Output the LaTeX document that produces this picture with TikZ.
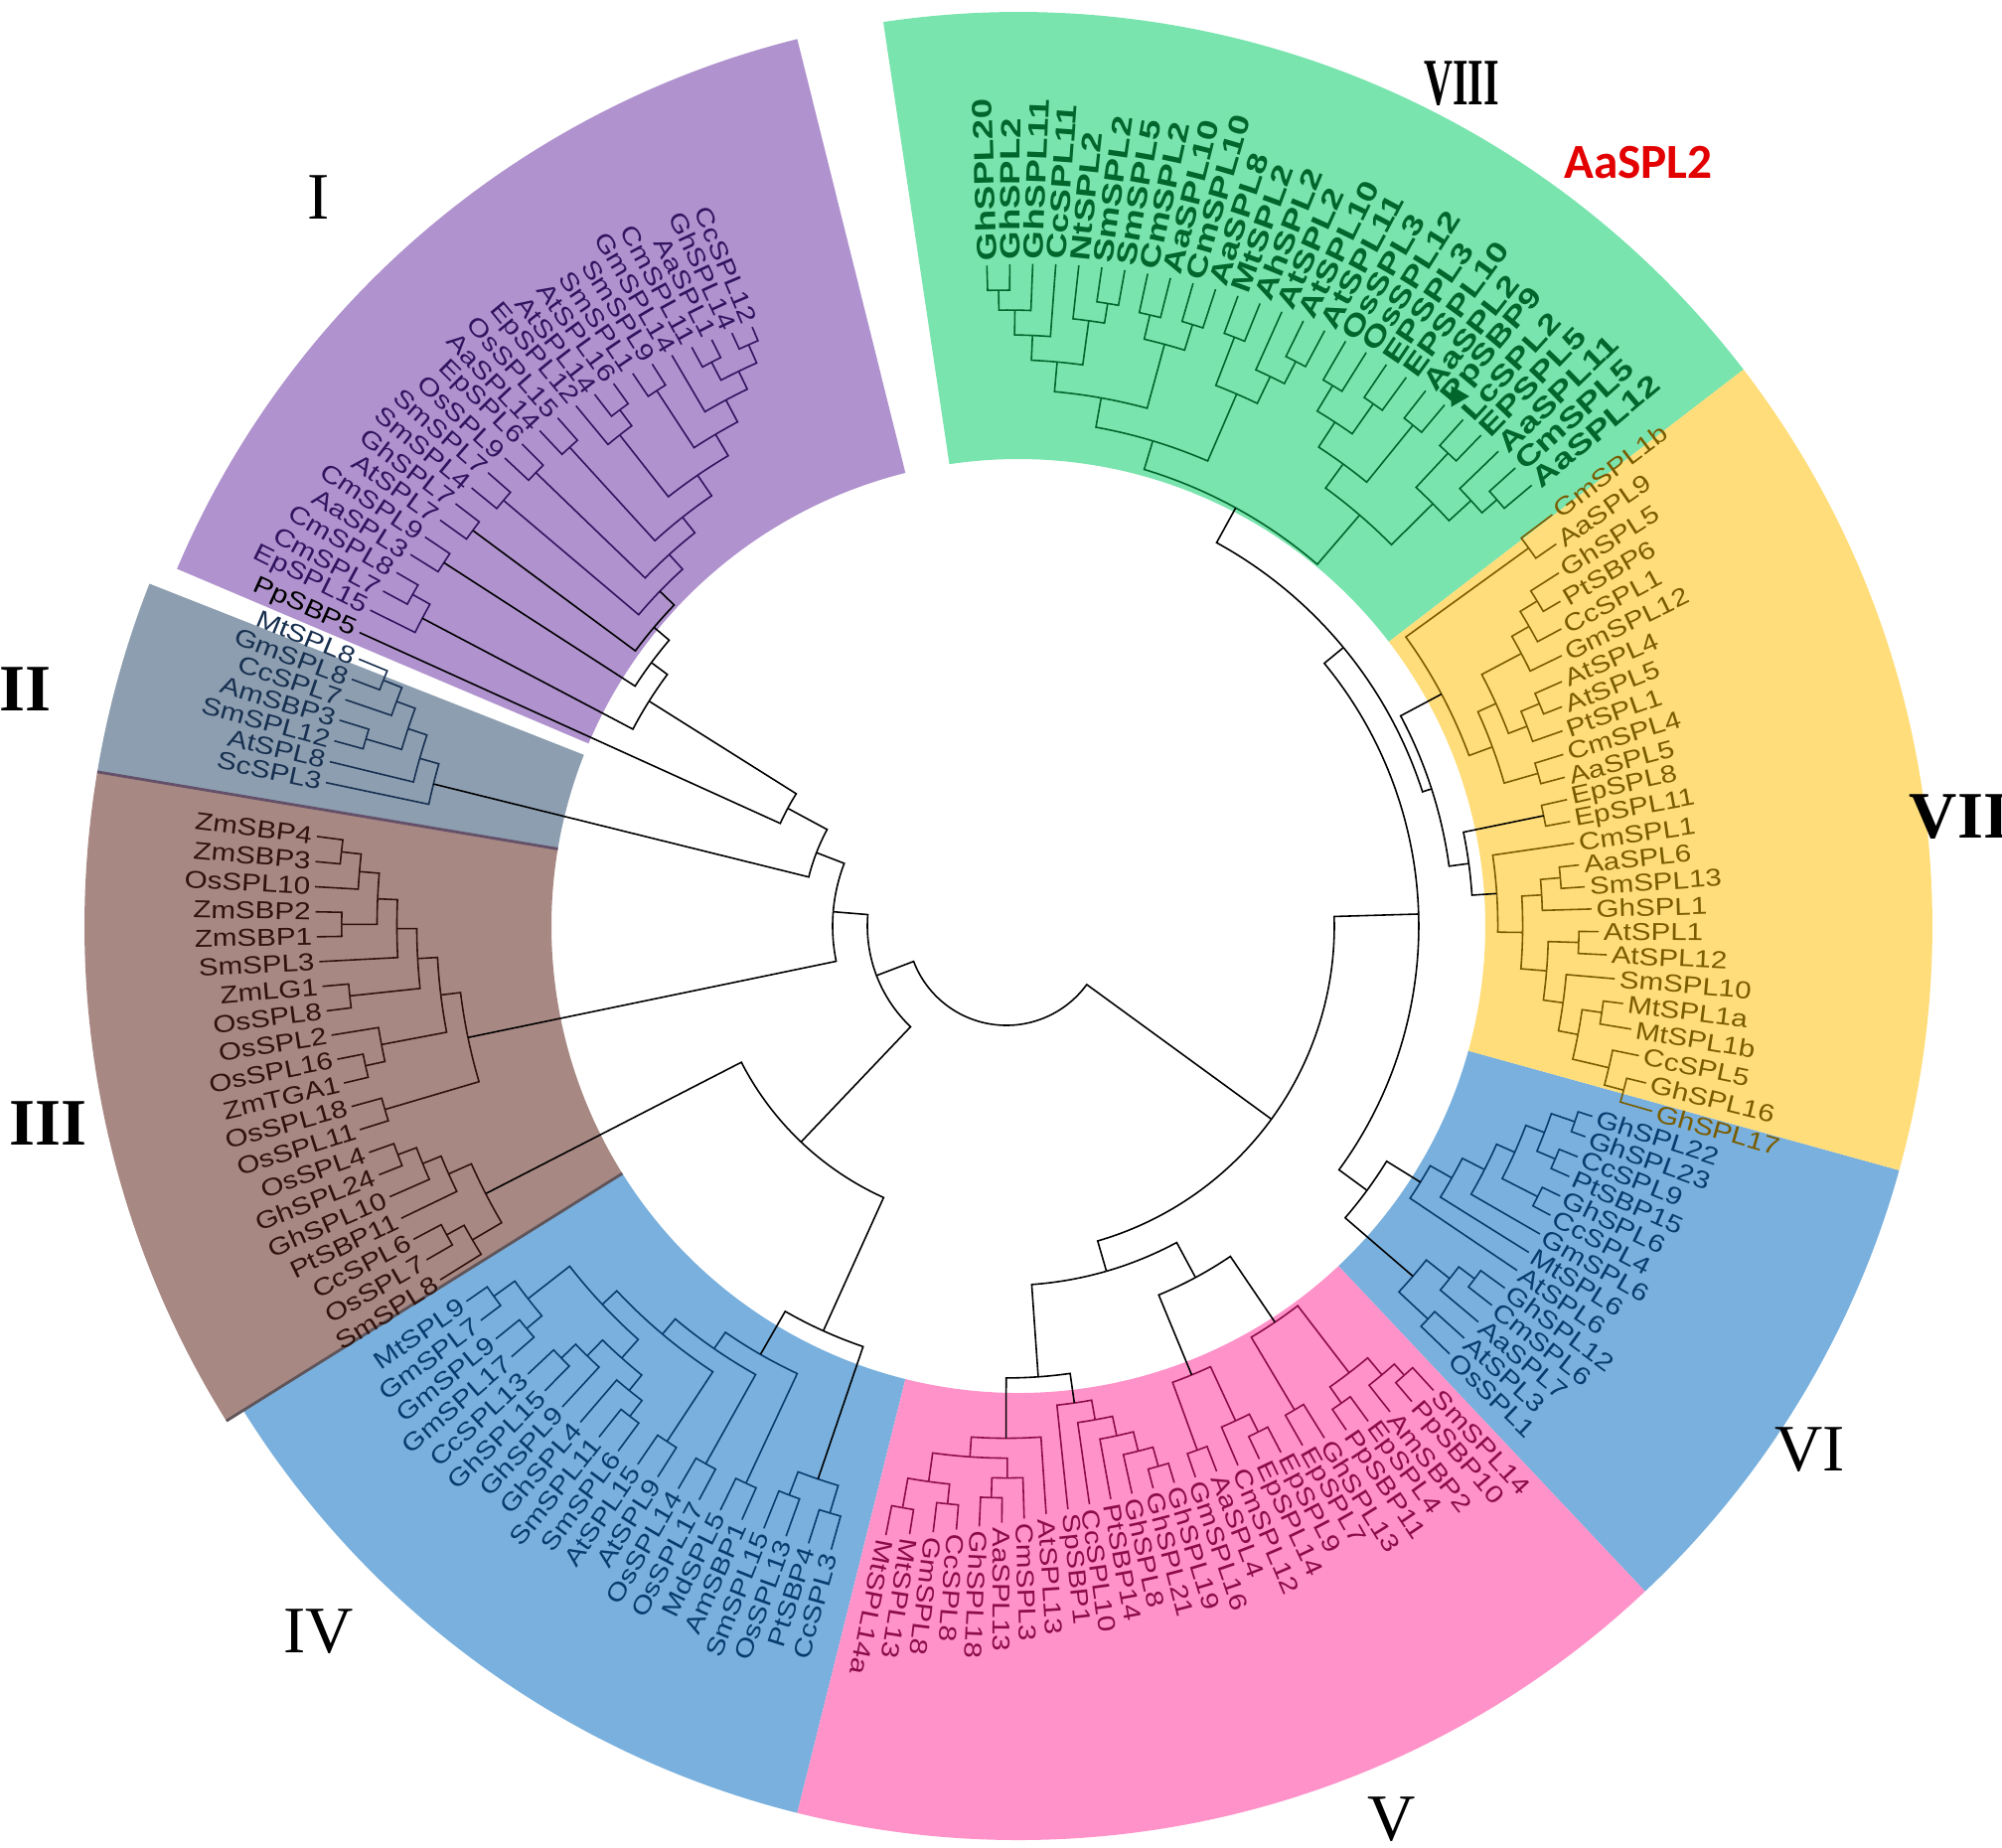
\documentclass[tikz,border=0pt]{standalone}
\usepackage{fontspec}
\setmainfont{Liberation Serif}
\newfontfamily\lblfont{Liberation Sans}[FakeStretch=1.2]
\newfontfamily\lblwidefont{Liberation Sans}[FakeStretch=1.3]
\newfontfamily\hifont{Carlito}
\usepackage{tikz}
\usetikzlibrary{shapes.geometric}
\usepackage{xcolor}
\definecolor{secI}{RGB}{176,146,206}
\definecolor{secII}{RGB}{140,158,176}
\definecolor{secIII}{RGB}{168,136,131}
\definecolor{secIV}{RGB}{121,176,221}
\definecolor{secV}{RGB}{255,146,201}
\definecolor{secVII}{RGB}{255,221,122}
\definecolor{secVIII}{RGB}{122,228,174}
\definecolor{txtI}{RGB}{48,20,96}
\definecolor{txtII}{RGB}{24,48,80}
\definecolor{txtIII}{RGB}{48,18,14}
\definecolor{txtIV}{RGB}{8,60,112}
\definecolor{txtV}{RGB}{140,12,72}
\definecolor{txtVII}{RGB}{122,92,0}
\definecolor{txtVIII}{RGB}{0,102,44}
\definecolor{edgeII}{RGB}{100,80,105}
\definecolor{edgeIII}{RGB}{95,85,90}
\definecolor{hired}{RGB}{226,0,0}
\tikzstyle{leaf} = [inner sep=1.2pt, font=\lblfont\fontsize{7}{8}\selectfont]
\tikzstyle{leafb} = [font=\lblwidefont\bfseries\fontsize{8}{9}\selectfont]
\tikzstyle{branch} = [line width=0.45pt, draw=\brcol]
\tikzstyle{clade} = [font=\fontsize{19}{22}\selectfont]
\tikzstyle{cladeb} = [font=\bfseries\fontsize{19}{22}\selectfont]
\tikzstyle{marker} = [regular polygon, regular polygon sides=3, fill=txtVIII, inner sep=0pt, minimum size=7pt]

\def\brcol{black}
\def\grp{}
\def\grpcol{black}
% leaves of one clade: prefix, first/last angle, first/last tip radius, bulge, colour, labels
\newcommand{\tgroup}[9][]{%
  \def\grp{#2}\def\grpcol{#8}%
  \foreach \lb [count=\n] in {#9}{\xdef\tcount{\n}}%
  \pgfmathsetmacro\tstep{(#4-#3)/max(\tcount-1,1)}%
  \foreach \lb [count=\k from 0] in {#9}{%
    \pgfmathsetmacro\ang{#3+\k*\tstep}%
    \pgfmathsetmacro\tpos{\k/max(\tcount-1,1)}%
    \pgfmathsetmacro\rad{#5+(#6-#5)*\tpos-#7*sin(180*\tpos)}%
    \expandafter\xdef\csname ta@#2\lb\endcsname{\ang}%
    \expandafter\xdef\csname tr@#2\lb\endcsname{\rad}%
    \coordinate (#2\lb) at (\ang:\rad);
    \ifdim\ang pt<257pt
      \node[leaf, text=#8, anchor=east, rotate=\ang-180, #1] (t#2\lb) at (#2\lb) {\lb};
    \else
      \node[leaf, text=#8, anchor=west, rotate=\ang, #1] (t#2\lb) at (#2\lb) {\lb};
    \fi
  }%
}
% inner node at a given radius, joined to its children
\newcommand{\tjoinat}[3]{%
  \global\let\tfirst\relax
  \foreach \ch in {#3}{\ifx\tfirst\relax\xdef\tfirst{\ch}\fi\xdef\tlast{\ch}}%
  \edef\aA{\csname ta@\grp\tfirst\endcsname}%
  \edef\aB{\csname ta@\grp\tlast\endcsname}%
  \pgfmathsetmacro\aM{(\aA+\aB)/2}%
  \pgfmathsetmacro\rN{#2}%
  \expandafter\xdef\csname ta@\grp#1\endcsname{\aM}%
  \expandafter\xdef\csname tr@\grp#1\endcsname{\rN}%
  \ifdim\rN pt<470pt\def\brcol{black}\else\edef\brcol{\grpcol}\fi
  \coordinate (\grp#1) at (\aM:\rN);
  \foreach \ch in {#3}{%
    \edef\aC{\csname ta@\grp\ch\endcsname}%
    \draw[branch] (\grp#1) arc[start angle=\aM, end angle=\aC, radius=\rN] -- (\grp\ch);
  }%
}
% inner node a branch length below its lowest child
\newcommand{\tjoin}[3]{%
  \gdef\tmin{16000}%
  \foreach \ch in {#3}{\edef\trc{\csname tr@\grp\ch\endcsname}\pgfmathsetmacro\tmp{min(\tmin,\trc)}\xdef\tmin{\tmp}}%
  \tjoinat{#1}{\tmin-#2}{#3}%
}

\begin{document}
\begin{tikzpicture}[x=0.01cm, y=0.01cm]
    \useasboundingbox (-1013,-927) rectangle (1002,932);

    % Sectors
    \begin{scope}[shift={(12,0)}]
    \fill[secVIII] (37.5:470) arc[start angle=37.5, end angle=98.5, radius=470] -- (98.5:920) arc[start angle=98.5, end angle=37.5, radius=920] -- cycle;
    \fill[secI] (104:470) arc[start angle=104, end angle=157, radius=470] -- (157:920) arc[start angle=157, end angle=104, radius=920] -- cycle;
    \fill[secII] (158.5:470) arc[start angle=158.5, end angle=170.5, radius=470] -- (170.5:940) arc[start angle=170.5, end angle=158.5, radius=940] -- cycle;
    \fill[secIII] (170.5:470) arc[start angle=170.5, end angle=212, radius=470] -- (212:940) arc[start angle=212, end angle=170.5, radius=940] -- cycle;
    \fill[secIV] (212:470) arc[start angle=212, end angle=256, radius=470] -- (256:920) arc[start angle=256, end angle=212, radius=920] -- cycle;
    \fill[secV] (256:470) arc[start angle=256, end angle=313.3, radius=470] -- (313.3:920) arc[start angle=313.3, end angle=256, radius=920] -- cycle;
    \fill[secIV] (313.3:470) arc[start angle=313.3, end angle=344.5, radius=470] -- (344.5:920) arc[start angle=344.5, end angle=313.3, radius=920] -- cycle;
    \fill[secVII] (344.5:470) arc[start angle=344.5, end angle=397.5, radius=470] -- (397.5:920) arc[start angle=397.5, end angle=344.5, radius=920] -- cycle;
    \draw[edgeII, line width=0.8pt] (170.5:470) -- (170.5:940);
    \draw[edgeIII, line width=0.8pt] (212:470) -- (212:940);
    \end{scope}

    % Clade I
    \tgroup{I-}{113}{153.6}{655}{715}{0}{txtI}{CcSPL12,GhSPL14,AaSPL1,CmSPL11,GmSPL14,SmSPL9,SmSPL1,AtSPL16,AtSPL14,EpSPL12,OsSPL15,AaSPL14,EpSPL6,OsSPL9,SmSPL7,SmSPL4,GhSPL7,AtSPL7,CmSPL9,AaSPL3,CmSPL8,CmSPL7,EpSPL15}
    \tjoin{u1}{15}{CcSPL12,GhSPL14}
    \tjoin{u2}{20}{AaSPL1,CmSPL11}
    \tjoin{u3}{20}{u1,u2}
    \tjoin{u4}{20}{u3,GmSPL14}
    \tjoin{u5}{25}{SmSPL9,SmSPL1}
    \tjoin{u6}{25}{u4,u5}
    \tjoin{u7}{25}{AtSPL16,AtSPL14}
    \tjoin{u8}{20}{u7,EpSPL12}
    \tjoin{u9}{25}{u6,u8}
    \tjoin{u10}{30}{OsSPL15,AaSPL14}
    \tjoin{u11}{25}{u9,u10}
    \tjoin{u12}{30}{EpSPL6,OsSPL9}
    \tjoin{u13}{20}{u11,u12}
    \tjoin{u14}{30}{SmSPL7,SmSPL4}
    \tjoin{u15}{20}{u13,u14}
    \tjoin{u16}{30}{GhSPL7,AtSPL7}
    \tjoin{u17}{20}{u15,u16}
    \tjoin{u18}{30}{CmSPL9,AaSPL3}
    \tjoin{u19}{20}{u17,u18}
    \tjoin{u20}{25}{CmSPL8,CmSPL7}
    \tjoin{u21}{20}{u20,EpSPL15}
    \tjoin{u22}{20}{u19,u21}

    \tgroup{P-}{155.6}{155.6}{715}{715}{0}{black}{PpSBP5}

    % Clade II
    \tgroup{II-}{157.6}{168.1}{705}{700}{0}{txtII}{MtSPL8,GmSPL8,CcSPL7,AmSBP3,SmSPL12,AtSPL8,ScSPL3}
    \tjoin{w1}{30}{MtSPL8,GmSPL8}
    \tjoin{w2}{20}{w1,CcSPL7}
    \tjoin{w3}{30}{AmSBP3,SmSPL12}
    \tjoin{w4}{20}{w2,w3}
    \tjoin{w5}{20}{w4,AtSPL8}
    \tjoin{w6}{20}{w5,ScSPL3}

    % Clade III
    \tgroup{III-}{172.6}{212}{700}{672}{0}{txtIII}{ZmSBP4,ZmSBP3,OsSPL10,ZmSBP2,ZmSBP1,SmSPL3,ZmLG1,OsSPL8,OsSPL2,OsSPL16,ZmTGA1,OsSPL18,OsSPL11,OsSPL4,GhSPL24,GhSPL10,PtSBP11,CcSPL6,OsSPL7,SmSPL8}
    \tjoin{t1}{25}{ZmSBP4,ZmSBP3}
    \tjoin{t2}{20}{t1,OsSPL10}
    \tjoin{t3}{25}{ZmSBP2,ZmSBP1}
    \tjoin{t4}{20}{t2,t3}
    \tjoin{t5}{20}{t4,SmSPL3}
    \tjoin{t6}{25}{ZmLG1,OsSPL8}
    \tjoin{t7}{20}{t5,t6}
    \tjoin{t8}{25}{OsSPL16,ZmTGA1}
    \tjoin{t9}{20}{OsSPL2,t8}
    \tjoin{t10}{20}{t7,t9}
    \tjoin{t11}{30}{OsSPL18,OsSPL11}
    \tjoin{t12}{20}{t10,t11}
    \tjoin{t13}{25}{OsSPL4,GhSPL24}
    \tjoin{t14}{20}{t13,GhSPL10}
    \tjoin{t15}{20}{t14,PtSBP11}
    \tjoin{t16}{30}{CcSPL6,OsSPL7}
    \tjoin{t17}{20}{t16,SmSPL8}
    \tjoin{t18}{25}{t15,t17}

    % Clade IV
    \tgroup{IV-}{214.8}{254.3}{662}{652}{0}{txtIV}{MtSPL9,GmSPL7,GmSPL9,GmSPL17,CcSPL13,GhSPL15,GhSPL9,GhSPL4,SmSPL11,SmSPL6,AtSPL15,AtSPL9,OsSPL14,OsSPL17,MdSPL5,AmSBP1,SmSPL15,OsSPL13,PtSBP4,CcSPL3}
    \tjoin{i1}{25}{MtSPL9,GmSPL7}
    \tjoin{i2}{30}{GmSPL9,GmSPL17}
    \tjoin{i3}{20}{i1,i2}
    \tjoin{i4}{35}{CcSPL13,GhSPL15}
    \tjoin{i5}{20}{i4,GhSPL9}
    \tjoin{i6}{35}{SmSPL11,SmSPL6}
    \tjoin{i7}{20}{GhSPL4,i6}
    \tjoin{i8}{20}{i5,i7}
    \tjoin{i9}{25}{i3,i8}
    \tjoin{i10}{35}{AtSPL15,AtSPL9}
    \tjoin{i11}{20}{i9,i10}
    \tjoin{i12}{35}{OsSPL14,OsSPL17}
    \tjoin{i13}{20}{i11,i12}
    \tjoin{i14}{35}{MdSPL5,AmSBP1}
    \tjoin{i15}{20}{i13,i14}
    \tjoin{i16}{40}{SmSPL15,OsSPL13}
    \tjoin{i17}{35}{PtSBP4,CcSPL3}
    \tjoin{i18}{25}{i16,i17}
    \tjoin{i19}{50}{i15,i18}

    % Clade V
    \tgroup{V-}{258.8}{312.6}{625}{635}{45}{txtV}{MtSPL14a,MtSPL13,GmSPL8,CcSPL8,GhSPL18,AaSPL13,CmSPL3,AtSPL13,SpSBP1,CcSPL10,PtSBP14,GhSPL8,GhSPL21,GhSPL19,GmSPL16,AaSPL4,CmSPL12,EpSPL14,EpSPL9,EpSPL7,GhSPL13,PpSBP11,EpSPL4,AmSBP2,PpSBP10,SmSPL14}
    \tjoin{p1}{25}{MtSPL14a,MtSPL13}
    \tjoin{p2}{25}{GmSPL8,CcSPL8}
    \tjoin{p3}{20}{p1,p2}
    \tjoin{p4}{25}{GhSPL18,AaSPL13}
    \tjoin{p5}{20}{p4,CmSPL3}
    \tjoin{p6}{20}{p3,p5}
    \tjoin{p7}{20}{p6,AtSPL13}
    \tjoin{p8}{20}{GhSPL21,GhSPL19}
    \tjoin{p9}{20}{GhSPL8,p8}
    \tjoin{p10}{20}{PtSBP14,p9}
    \tjoin{p11}{20}{CcSPL10,p10}
    \tjoin{p12}{20}{SpSBP1,p11}
    \tjoin{p13}{30}{p7,p12}
    \tjoin{p14}{25}{GmSPL16,AaSPL4}
    \tjoin{p15}{25}{EpSPL14,EpSPL9}
    \tjoin{p16}{20}{CmSPL12,p15}
    \tjoin{p17}{60}{p14,p16}
    \tjoin{p18}{35}{EpSPL7,GhSPL13}
    \tjoin{p19}{25}{PpSBP11,EpSPL4}
    \tjoin{p20}{25}{PpSBP10,SmSPL14}
    \tjoin{p21}{15}{AmSBP2,p20}
    \tjoin{p22}{20}{p19,p21}
    \tjoin{p23}{85}{p18,p22}
    \tjoin{p24}{80}{p17,p23}
    \tjoin{p25}{40}{p13,p24}

    % Clade VI
    \tgroup{VI-}{316}{342}{620}{620}{0}{txtIV}{OsSPL1,AtSPL3,AaSPL7,CmSPL6,GhSPL12,AtSPL6,MtSPL6,GmSPL6,CcSPL4,GhSPL6,PtSBP15,CcSPL9,GhSPL23,GhSPL22}
    \tjoin{s1}{15}{GhSPL23,GhSPL22}
    \tjoin{s2}{20}{PtSBP15,CcSPL9}
    \tjoin{s3}{20}{s2,s1}
    \tjoin{s4}{20}{CcSPL4,GhSPL6}
    \tjoin{s5}{20}{s4,s3}
    \tjoin{s6}{20}{GmSPL6,s5}
    \tjoin{s7}{25}{MtSPL6,s6}
    \tjoin{s8}{25}{AtSPL6,s7}
    \tjoin{s9}{30}{CmSPL6,GhSPL12}
    \tjoin{s10}{20}{AaSPL7,s9}
    \tjoin{s11}{40}{OsSPL1,AtSPL3}
    \tjoin{s12}{30}{s11,s10}
    \tjoin{s13}{40}{s12,s8}

    % Clade VII
    \tgroup{VII-}{344}{397}{676}{688}{105}{txtVII}{GhSPL17,GhSPL16,CcSPL5,MtSPL1b,MtSPL1a,SmSPL10,AtSPL12,AtSPL1,GhSPL1,SmSPL13,AaSPL6,CmSPL1,EpSPL11,EpSPL8,AaSPL5,CmSPL4,PtSPL1,AtSPL5,AtSPL4,GmSPL12,CcSPL1,PtSBP6,GhSPL5,AaSPL9,GmSPL1b}
    \tjoin{y1}{20}{GhSPL17,GhSPL16}
    \tjoin{y2}{20}{y1,CcSPL5}
    \tjoin{y3}{20}{MtSPL1b,MtSPL1a}
    \tjoin{y4}{20}{y2,y3}
    \tjoin{y5}{20}{y4,SmSPL10}
    \tjoin{y6}{20}{AtSPL12,AtSPL1}
    \tjoin{y7}{20}{y5,y6}
    \tjoin{y8}{20}{SmSPL13,AaSPL6}
    \tjoin{y9}{20}{GhSPL1,y8}
    \tjoin{y10}{20}{y7,y9}
    \tjoin{y11}{25}{y10,CmSPL1}
    \tjoin{y12}{25}{EpSPL11,EpSPL8}
    \tjoin{y13}{25}{y11,y12}
    \tjoin{y14}{25}{AaSPL5,CmSPL4}
    \tjoin{y15}{20}{AtSPL5,AtSPL4}
    \tjoin{y16}{20}{PtSPL1,y15}
    \tjoin{y17}{20}{PtSBP6,GhSPL5}
    \tjoin{y18}{20}{CcSPL1,y17}
    \tjoin{y19}{20}{GmSPL12,y18}
    \tjoin{y20}{20}{y16,y19}
    \tjoin{y21}{20}{y14,y20}
    \tjoin{y22}{25}{AaSPL9,GmSPL1b}
    \tjoin{y23}{25}{y21,y22}
    \tjoin{y24}{20}{y13,y23}

    % Clade VIII
    \tgroup[leafb]{VIII-}{400}{451.7}{690}{665}{0}{txtVIII}{AaSPL12,CmSPL5,AaSPL11,EPSPL5,LcSPL2,PpSBP9,AaSPL2,EPSPL10,EPSPL3,OsSPL12,OsSPL3,AtSPL11,AtSPL10,AtSPL2,AhSPL2,MtSPL2,AaSPL8,CmSPL10,AaSPL10,CmSPL2,SmSPL5,SmSPL2,NtSPL2,CcSPL11,GhSPL11,GhSPL2,GhSPL20}
    \tjoin{v1}{25}{GhSPL2,GhSPL20}
    \tjoin{v2}{20}{GhSPL11,v1}
    \tjoin{v3}{25}{CcSPL11,v2}
    \tjoin{v4}{35}{SmSPL5,SmSPL2}
    \tjoin{v5}{20}{v4,NtSPL2}
    \tjoin{v6}{25}{v5,v3}
    \tjoin{v7}{40}{AaSPL10,CmSPL2}
    \tjoin{v8}{40}{AaSPL8,CmSPL10}
    \tjoin{v9}{25}{v8,v7}
    \tjoin{v10}{30}{v9,v6}
    \tjoin{v11}{40}{AhSPL2,MtSPL2}
    \tjoin{v12}{40}{AtSPL11,AtSPL10}
    \tjoin{v13}{25}{v12,AtSPL2}
    \tjoin{v14}{30}{v13,v11}
    \tjoin{v15}{30}{v14,v10}
    \tjoin{v16}{45}{OsSPL12,OsSPL3}
    \tjoin{v17}{40}{EPSPL10,EPSPL3}
    \tjoin{v18}{30}{v17,v16}
    \tjoin{v19}{35}{PpSBP9,AaSPL2}
    \tjoin{v20}{30}{v19,v18}
    \tjoin{v21}{35}{EPSPL5,LcSPL2}
    \tjoin{v22}{35}{AaSPL12,CmSPL5}
    \tjoin{v23}{20}{v22,AaSPL11}
    \tjoin{v24}{30}{v23,v21}
    \tjoin{v25}{30}{v24,v20}
    \tjoin{v26}{30}{v25,v15}
    \node[marker, rotate=30] (mark) at (409.6:700) {};

    % Backbone
    \def\grp{}\def\grpcol{black}
    \tjoinat{b1}{250}{I-u22,P-PpSBP5}
    \tjoinat{b2}{205}{b1,II-w6}
    \tjoinat{b3}{175}{b2,III-t12}
    \tjoinat{b4}{300}{III-t18,IV-i19}
    \tjoinat{b5}{140}{b3,b4}
    \tjoinat{r1}{440}{VII-y24,VIII-v26}
    \tjoinat{r2}{415}{VI-s13,r1}
    \tjoinat{r3}{330}{V-p25,r2}
    \tjoinat{root}{100}{b5,r3}

    % Clade names
    \node[clade] (cI) at (-692,733) {I};
    \node[cladeb] (cII) at (-987,238) {II};
    \node[cladeb] (cIII) at (-964,-199) {III};
    \node[clade] (cIV) at (-692,-710) {IV};
    \node[clade] (cV) at (388,-899) {V};
    \node[clade] (cVI) at (809,-527) {VI};
    \node[cladeb] (cVII) at (959,110) {VII};
    \node[cladeb, xscale=0.6] (cVIII) at (458,848) {VIII};
    \node[text=hired, font=\hifont\bfseries\fontsize{14}{16}\selectfont] (focus) at (636,768) {AaSPL2};
\end{tikzpicture}
\end{document}
